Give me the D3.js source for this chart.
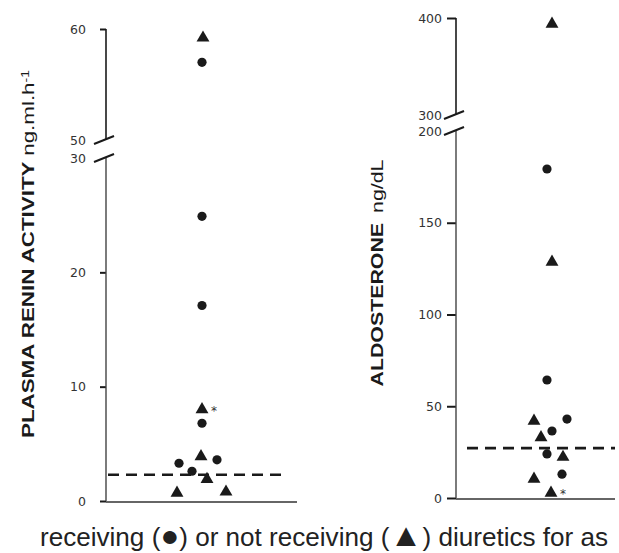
<!DOCTYPE html>
<html><head><meta charset="utf-8">
<script src="https://cdn.jsdelivr.net/npm/d3@7"></script>
<style>body{margin:0;background:#fff;} svg{display:block;}</style>
</head><body>
<svg id="c" width="619" height="553"></svg>
<script>
// ---- Data ----
// Plasma renin activity (ng.ml.h-1)
const reninCircleVals = [57.0, 24.9, 17.1, 6.8, 3.3, 3.6, 2.6];
const reninCircleJit  = [0, 0, 0, 0, -0.23, 0.15, -0.10];
const reninTriVals    = [59.2, 8.0, 3.9, 1.9, 0.7, 0.8];
const reninTriJit     = [0.01, 0, -0.01, 0.05, -0.25, 0.24];
const reninTriStar    = [false, true, false, false, false, false];
const reninCutoff     = 2.3;
const reninLowTicks   = [0, 10, 20, 30];
const reninHighTicks  = [50, 60];

// Aldosterone (ng/dL)
const aldoCircleVals = [179.3, 64.3, 43, 36.5, 24, 13];
const aldoCircleJit  = [-0.02, -0.02, 0.18, 0.03, -0.02, 0.13];
const aldoTriVals    = [393.8, 128.6, 42, 33, 22.3, 10.4, 2.7];
const aldoTriJit     = [0.03, 0.03, -0.15, -0.08, 0.14, -0.15, 0.02];
const aldoTriStar    = [false, false, false, false, false, false, true];
const aldoCutoff     = 27.2;
const aldoLowTicks   = [0, 50, 100, 150, 200];
const aldoHighTicks  = [300, 400];

const svg = d3.select("#c");
const ink = "#1a1a1a";

function panel(cfg) {
  const g = svg.append("g");
  const x = d3.scaleLinear().domain(cfg.xDom).range(cfg.xRange);
  const yLo = d3.scaleLinear().domain(cfg.loDom).range(cfg.loRange);
  const yHi = d3.scaleLinear().domain(cfg.hiDom).range(cfg.hiRange);
  const x0 = cfg.xRange[0];

  const styleAxis = (sel) => {
    sel.select(".domain").remove();
    sel.selectAll(".tick line").attr("stroke", ink).attr("stroke-width", 2);
    sel.selectAll(".tick text").attr("fill", "#333")
      .style("font-family", "'DejaVu Sans', sans-serif").style("font-size", "12.5px");
  };
  const axLo = g.append("g").attr("transform", `translate(${x0},0)`)
    .call(d3.axisLeft(yLo).tickValues(cfg.loTicks).tickSize(cfg.tickSize).tickPadding(cfg.tickPad).tickFormat(d3.format("d")));
  styleAxis(axLo);
  const axHi = g.append("g").attr("transform", `translate(${x0},0)`)
    .call(d3.axisLeft(yHi).tickValues(cfg.hiTicks).tickSize(cfg.tickSize).tickPadding(cfg.tickPad).tickFormat(d3.format("d")));
  styleAxis(axHi);
  axHi.selectAll(".tick").filter(d => d === cfg.hiDom[0]).select("line").remove();
  axLo.selectAll(".tick").filter(d => d === cfg.loDom[1]).select("line").remove();

  // vertical axis segments
  const topLo = yLo(cfg.loDom[1]), botHi = yHi(cfg.hiDom[0]);
  g.append("line").attr("x1", x0).attr("x2", x0).attr("y1", yLo(0)).attr("y2", topLo)
    .attr("stroke", "#444").attr("stroke-width", 1.4);
  g.append("line").attr("x1", x0).attr("x2", x0).attr("y1", botHi).attr("y2", yHi(cfg.hiDom[1]))
    .attr("stroke", ink).attr("stroke-width", 1.6);
  // break marks
  [botHi, topLo].forEach(yy => {
    g.append("line").attr("x1", x0 - 12).attr("y1", yy + 4).attr("x2", x0 + 8).attr("y2", yy - 4)
      .attr("stroke", ink).attr("stroke-width", 2);
  });
  // x axis baseline
  g.append("line").attr("x1", x0).attr("x2", cfg.xRange[1]).attr("y1", yLo(0) + 1).attr("y2", yLo(0) + 1)
    .attr("stroke", "#333").attr("stroke-width", 1.4);

  // dashed cutoff
  g.append("line").attr("x1", x(cfg.dashDom[0])).attr("x2", x(cfg.dashDom[1]))
    .attr("y1", yLo(cfg.cutoff)).attr("y2", yLo(cfg.cutoff))
    .attr("stroke", ink).attr("stroke-width", 2.6).attr("stroke-dasharray", "11,7");

  const yOf = v => v > cfg.loDom[1] ? yHi(v) : yLo(v);
  const circles = cfg.cVals.map((v, i) => ({v, j: cfg.cJit[i]}));
  const tris = cfg.tVals.map((v, i) => ({v, j: cfg.tJit[i], star: cfg.tStar[i]}));
  g.selectAll("circle.pt").data(circles).join("circle").attr("class", "pt")
    .attr("cx", d => x(d.j)).attr("cy", d => yOf(d.v)).attr("r", 4.6).attr("fill", ink);
  const tri = d3.symbol().type(d3.symbolTriangle).size(72);
  g.selectAll("path.tri").data(tris).join("path").attr("class", "tri")
    .attr("d", tri).attr("transform", d => `translate(${x(d.j)},${yOf(d.v)})`).attr("fill", ink);
  g.selectAll("text.star").data(tris.filter(d => d.star)).join("text").attr("class", "star")
    .attr("x", d => x(d.j) + 9).attr("y", d => yOf(d.v) + 5)
    .style("font-family", "'DejaVu Sans', sans-serif").style("font-size", "12px").attr("fill", "#333").text("*");

  // y label
  const lab = g.append("text")
    .attr("transform", `translate(${cfg.labX},${cfg.labY}) rotate(-90)`)
    .attr("text-anchor", "middle").attr("dy", "0.36em")
    .attr("textLength", cfg.labLen).attr("lengthAdjust", "spacingAndGlyphs")
    .style("font-family", "'Liberation Sans', Arial, sans-serif").style("font-size", cfg.labSize + "px")
    .attr("fill", ink);
  cfg.labParts(lab);
}

panel({
  xDom: [-0.96, 0.95], xRange: [106, 297],
  loDom: [0, 30], loRange: [501, 158],
  hiDom: [50, 60], hiRange: [140, 29],
  loTicks: reninLowTicks, hiTicks: reninHighTicks,
  tickSize: 6, tickPad: 14,
  dashDom: [-0.94, 0.85], cutoff: reninCutoff,
  cVals: reninCircleVals, cJit: reninCircleJit,
  tVals: reninTriVals, tJit: reninTriJit, tStar: reninTriStar,
  labX: 28, labY: 254, labLen: 368, labSize: 16,
  labParts: t => {
    t.append("tspan").style("font-weight", "bold").text("PLASMA RENIN ACTIVITY ");
    t.append("tspan").text("ng.ml.h");
    t.append("tspan").attr("dy", "-0.5em").style("font-size", "10px").text("-1");
  }
});

panel({
  xDom: [-0.93, 0.66], xRange: [456, 615],
  loDom: [0, 200], loRange: [498, 131],
  hiDom: [300, 400], hiRange: [115, 18],
  loTicks: aldoLowTicks, hiTicks: aldoHighTicks,
  tickSize: 9, tickPad: 5,
  dashDom: [-0.82, 0.66], cutoff: aldoCutoff,
  cVals: aldoCircleVals, cJit: aldoCircleJit,
  tVals: aldoTriVals, tJit: aldoTriJit, tStar: aldoTriStar,
  labX: 377, labY: 273, labLen: 227, labSize: 17,
  labParts: t => {
    t.append("tspan").style("font-weight", "bold").text("ALDOSTERONE");
    t.append("tspan").attr("dx", 8).text("ng/dL");
  }
});

// caption
const cap = svg.append("text").attr("x", 40).attr("y", 546)
  .attr("textLength", 568).attr("lengthAdjust", "spacingAndGlyphs")
  .style("font-family", "'Liberation Sans Narrow', 'Liberation Sans', Arial, sans-serif")
  .style("font-size", "25px").attr("fill", "#222");
cap.append("tspan").text("receiving (");
cap.append("tspan").style("font-size", "30px").text("\u25CF");
cap.append("tspan").text(") or not receiving (");
cap.append("tspan").style("font-size", "32px").text("\u25B2");
cap.append("tspan").text(") diuretics for as");
</script>
</body></html>
